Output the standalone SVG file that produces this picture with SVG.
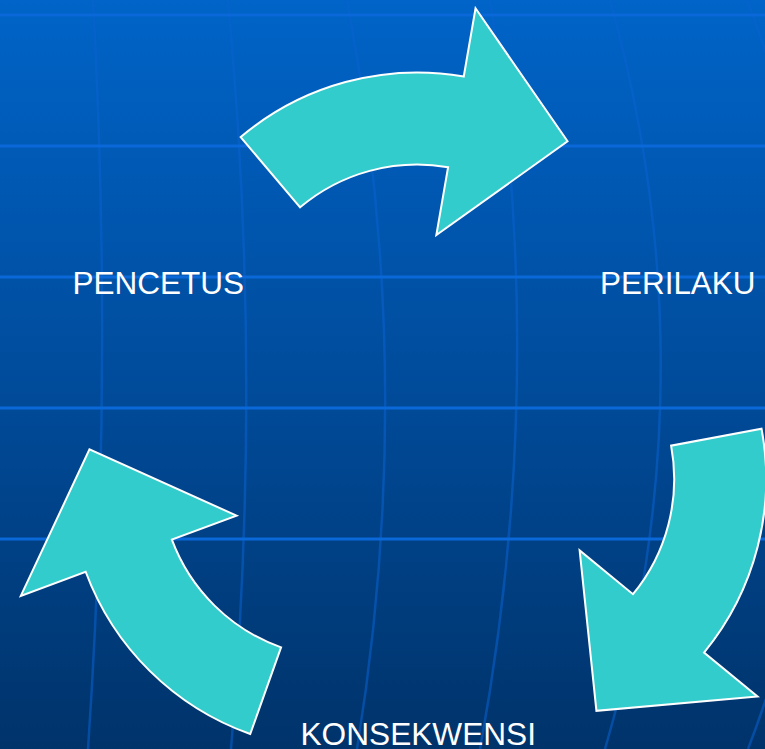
<svg xmlns="http://www.w3.org/2000/svg" width="765" height="749" viewBox="0 0 765 749">
  <defs>
    <linearGradient id="bg" x1="0" y1="0" x2="0" y2="1">
      <stop offset="0" stop-color="#0064C8"/>
      <stop offset="0.5" stop-color="#004C9C"/>
      <stop offset="1" stop-color="#00336A"/>
    </linearGradient>
    <!-- block arc arrow: arc centre at origin, head base along +x, tail 50deg back -->
    <path id="arcArrow" d="M 175.8,-209.5 A 273.5 273.5 0 0 1 273.5,0 L 342.7,0 L 227.3,113.3 L 112.5,0 L 181.5,0 A 181.5 181.5 0 0 0 116.7,-139 Z"/>
    <style>
      .hline { stroke: #0A68D8; stroke-width: 3; fill: none; }
      .mline { stroke: #0A62D0; stroke-width: 2.5; fill: none; opacity: 0.55; }
      .arrow { fill: #33CCCC; stroke: #FFFFFF; stroke-width: 2; stroke-linejoin: miter; }
      .label { fill: #FFFFFF; font-family: "Liberation Sans", Arial, sans-serif; font-size: 32px; }
    </style>
  </defs>

  <!-- background with grid -->
  <rect x="0" y="0" width="765" height="749" fill="url(#bg)"/>
  <g id="grid">
    <path class="mline" d="M93,0 Q113.5,374.5 88,749"/>
    <path class="mline" d="M228,0 Q263,374.5 231,749"/>
    <path class="mline" d="M347,0 Q418,374.5 357,749"/>
    <path class="mline" d="M490,0 Q549,374.5 480,749"/>
    <path class="mline" d="M610,0 Q714,374.5 605,749"/>
    <path class="mline" d="M747,0 Q892,374.5 748,749"/>
    <line class="hline" x1="0" y1="15" x2="765" y2="15"/>
    <line class="hline" x1="0" y1="146" x2="765" y2="146"/>
    <line class="hline" x1="0" y1="277" x2="765" y2="277"/>
    <line class="hline" x1="0" y1="408" x2="765" y2="408"/>
    <line class="hline" x1="0" y1="539" x2="765" y2="539"/>
  </g>

  <!-- cycle arrows -->
  <g id="connectors">
    <use href="#arcArrow" class="arrow" transform="translate(417.2,346) rotate(279.8)"/>
    <use href="#arcArrow" class="arrow" transform="translate(492.7,479) rotate(39.4)"/>
    <use href="#arcArrow" class="arrow" transform="translate(342,476.4) rotate(159.6)"/>
  </g>

  <g id="pencetus">
    <text class="label" x="72.5" y="294" textLength="171.5" lengthAdjust="spacingAndGlyphs">PENCETUS</text>
  </g>
  <g id="perilaku">
    <text class="label" x="600" y="294" textLength="155.5" lengthAdjust="spacingAndGlyphs">PERILAKU</text>
  </g>
  <g id="konsekwensi">
    <text class="label" x="300.5" y="745" textLength="235.5" lengthAdjust="spacingAndGlyphs">KONSEKWENSI</text>
  </g>
</svg>
